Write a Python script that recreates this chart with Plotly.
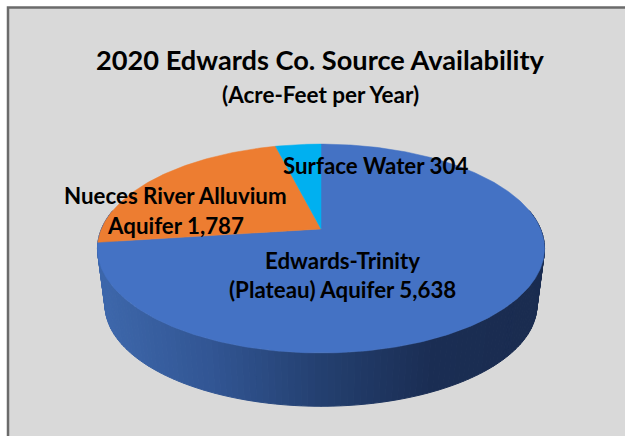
import math
import plotly.graph_objects as go

# Data
sources = ["Edwards-Trinity (Plateau) Aquifer", "Nueces River Alluvium Aquifer", "Surface Water"]
values = [5638, 1787, 304]
slice_colors = ["#4472C4", "#ED7D31", "#00B0F0"]

title = "2020 Edwards Co. Source Availability"
subtitle = "(Acre-Feet per Year)"
label_lines = [
    ["Edwards-Trinity", "(Plateau) Aquifer 5,638"],
    ["Nueces River Alluvium", "Aquifer 1,787"],
    ["Surface Water 304"],
]
label_pos = [[(342, 260), (342, 289)], [(175, 195), (175, 225)], [(375, 165)]]

# Projection of the tilted pie
CX, CY, R, H, K = 321.0, 229.0, 219.6, 100.8, 0.187
CY2, SCALE2 = 286.5, 0.966
FONT = "Lato"

def top(theta):
    u, v = math.sin(theta), -math.cos(theta)
    w = 1 - K * v
    return CX + R * u / w, CY + H * v / w

def bottom(theta):
    x, y = top(theta)
    return CX + (x - CX) * SCALE2, CY2 + (y - CY) * SCALE2

def mix(stops, t):
    for (a, ca), (b, cb) in zip(stops, stops[1:]):
        if t <= b:
            f = (t - a) / (b - a)
            return "rgb(%d,%d,%d)" % tuple(ca[i] + (cb[i] - ca[i]) * f for i in range(3))
    return "rgb(%d,%d,%d)" % stops[-1][1]

wall_stops = [
    (0.00, (62, 104, 172)),
    (0.25, (50, 86, 148)),
    (0.50, (36, 64, 112)),
    (0.75, (27, 46, 84)),
    (1.00, (26, 44, 80)),
]

fig = go.Figure()

# Side wall, front part of the rim from right extreme to left extreme
start = math.pi - math.asin(K) - math.pi / 2
end = 2 * math.pi - start
N = 140
for i in range(N):
    a = start + (end - start) * i / N
    b = start + (end - start) * (i + 1) / N
    p = [top(a), top(b), bottom(b), bottom(a), top(a)]
    mx = (p[0][0] + p[1][0]) / 2
    col = mix(wall_stops, (mx - 97) / 447)
    fig.add_trace(go.Scatter(
        x=[q[0] for q in p], y=[q[1] for q in p], mode="lines", fill="toself",
        fillcolor=col, line=dict(color=col, width=1), hoverinfo="skip", showlegend=False))

# Top face: slices run clockwise from 12 o'clock, Edwards-Trinity first
total = sum(values)
acc = 0.0
for name, val, col in zip(sources, values, slice_colors):
    a0 = 2 * math.pi * acc / total
    acc += val
    a1 = 2 * math.pi * acc / total
    n = max(8, int((a1 - a0) * 80))
    pts = [(CX, CY)] + [top(a0 + (a1 - a0) * j / n) for j in range(n + 1)] + [(CX, CY)]
    fig.add_trace(go.Scatter(
        x=[q[0] for q in pts], y=[q[1] for q in pts], mode="lines", fill="toself",
        fillcolor=col, line=dict(color=col, width=0.5), name=name, hoverinfo="name",
        showlegend=False))

ann = [
    dict(x=320, y=59, text=f"<b>{title}</b>", font=dict(size=27.2, family=FONT, color="#000000")),
    dict(x=320, y=94, text=f"<b>{subtitle}</b>", font=dict(size=22.5, family=FONT, color="#000000")),
]
for lines, poss in zip(label_lines, label_pos):
    for line, (x, y) in zip(lines, poss):
        ann.append(dict(x=x, y=y, text=f"<b>{line}</b>", font=dict(size=22.3, family=FONT, color="#000000")))
for a in ann:
    a.update(xref="x", yref="y", showarrow=False, xanchor="center", yanchor="middle")

fig.update_layout(
    width=625, height=436, margin=dict(l=0, r=0, t=0, b=0, pad=0), autosize=False,
    paper_bgcolor="#FFFFFF", plot_bgcolor="#FFFFFF", annotations=ann,
    xaxis=dict(range=[0, 625], visible=False, fixedrange=True),
    yaxis=dict(range=[436, 0], visible=False, fixedrange=True),
    shapes=[dict(type="rect", xref="x", yref="y", x0=8, y0=7.5, x1=640, y1=450,
                 fillcolor="#D9D9D9", line=dict(color="#6B6B6B", width=2.5), layer="below")],
)
fig.write_html("out.html", config=dict(displayModeBar=False),
               post_script="document.body.style.margin='0';document.body.style.overflow='hidden';")
